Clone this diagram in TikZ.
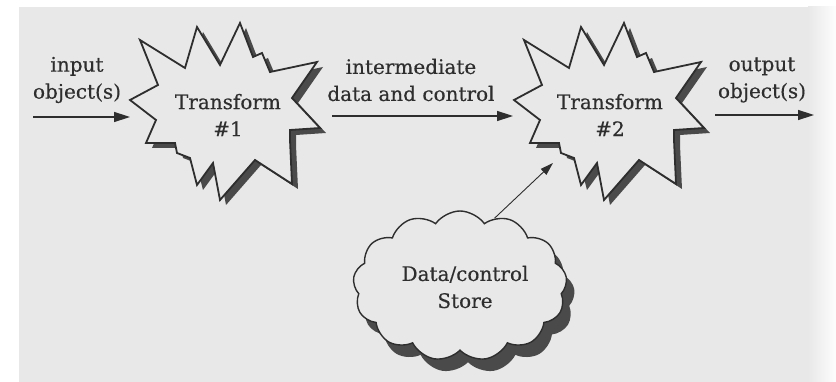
\documentclass[tikz,border=0pt]{standalone}
\usepackage{fontspec}
\setmainfont{DejaVu Serif}[FakeBold=0.4]
\usetikzlibrary{arrows.meta,shapes.symbols,calc}
\definecolor{bgc}{HTML}{E8E8E8}
\definecolor{inkc}{HTML}{2E2E2E}
\definecolor{shadc}{HTML}{4A4A4A}
\tikzset{
  lbl/.style={text=inkc,align=center,font=\fontsize{20}{27}\selectfont,inner sep=0pt},
  startext/.style={text=inkc,align=center,font=\fontsize{20}{27}\selectfont,inner sep=0pt},
  flow/.style={draw=inkc,line width=1.5pt,-{Triangle[length=16pt,width=10pt]}},
  thinflow/.style={draw=inkc,line width=0.9pt,-{Triangle[length=13pt,width=8pt]}},
  starline/.style={draw=inkc,line width=1.8pt,fill=bgc,line join=miter,miter limit=20},
  starshadow/.style={fill=shadc},
  cloudbox/.style={cloud,cloud puffs=13,cloud puff arc=110,aspect=1.55,minimum width=214pt,minimum height=150pt,inner sep=0pt},
}
\def\starpath{(140,40) -- (185,68) -- (197,27) -- (220,65) -- (240,23) -- (253,57) -- (262,53) -- (270,72) -- (317,62) -- (292,98) -- (320,128) -- (290,130) -- (290,140) -- (292,184) -- (255,160) -- (220,200) -- (213,163) -- (197,185) -- (190,158) -- (177,153) -- (175,143) -- (146,143) -- (156,120) -- (130,100) -- (158,85) -- cycle}
\begin{document}
\begin{tikzpicture}[x=1pt,y=-1pt]
\useasboundingbox (0,0) rectangle (836,382);
\fill[white] (0,0) rectangle (836,382);
\fill[bgc] (19,7) rectangle (836,382);
\shade[left color=bgc,right color=white!92!bgc] (808,7) rectangle (836,382);
% star 1
\fill[starshadow,shift={(6,5)}] \starpath;
\path[starline] \starpath;
\node[startext] (t1) at (228,115) {Transform\\\#1};
% star 2
\begin{scope}[shift={(384,0)}]
\fill[starshadow,shift={(6,5)}] \starpath;
\path[starline] \starpath;
\end{scope}
\node[startext] (t2) at (610,115) {Transform\\\#2};
% cloud
\node[cloudbox,fill=shadc] (cloudsh) at (468,298) {};
\node[cloudbox,draw=inkc,line width=1.4pt,fill=bgc] (cloud) at (460,286) {};
\node[lbl] (store) at (465,287) {Data/control\\Store};
% labels
\node[lbl] (inlbl) at (77,80) {input\\object(s)};
\node[lbl] (midlbl) at (411,80) {intermediate\\data and control};
\node[lbl] (outlbl) at (762,80) {output\\object(s)};
% arrow ends
\coordinate (a1s) at (33,117);
\coordinate (a1e) at (130,117);
\coordinate (a2s) at (332,116);
\coordinate (a2e) at (513,116);
\coordinate (a3s) at (715,115);
\coordinate (a3e) at (814,115);
\coordinate (a4e) at (553,163);
\draw[flow] (a1s) -- (a1e);
\draw[flow] (a2s) -- (a2e);
\draw[flow] (a3s) -- (a3e);
\draw[thinflow] (cloud.63) -- (a4e);
\end{tikzpicture}
\end{document}
